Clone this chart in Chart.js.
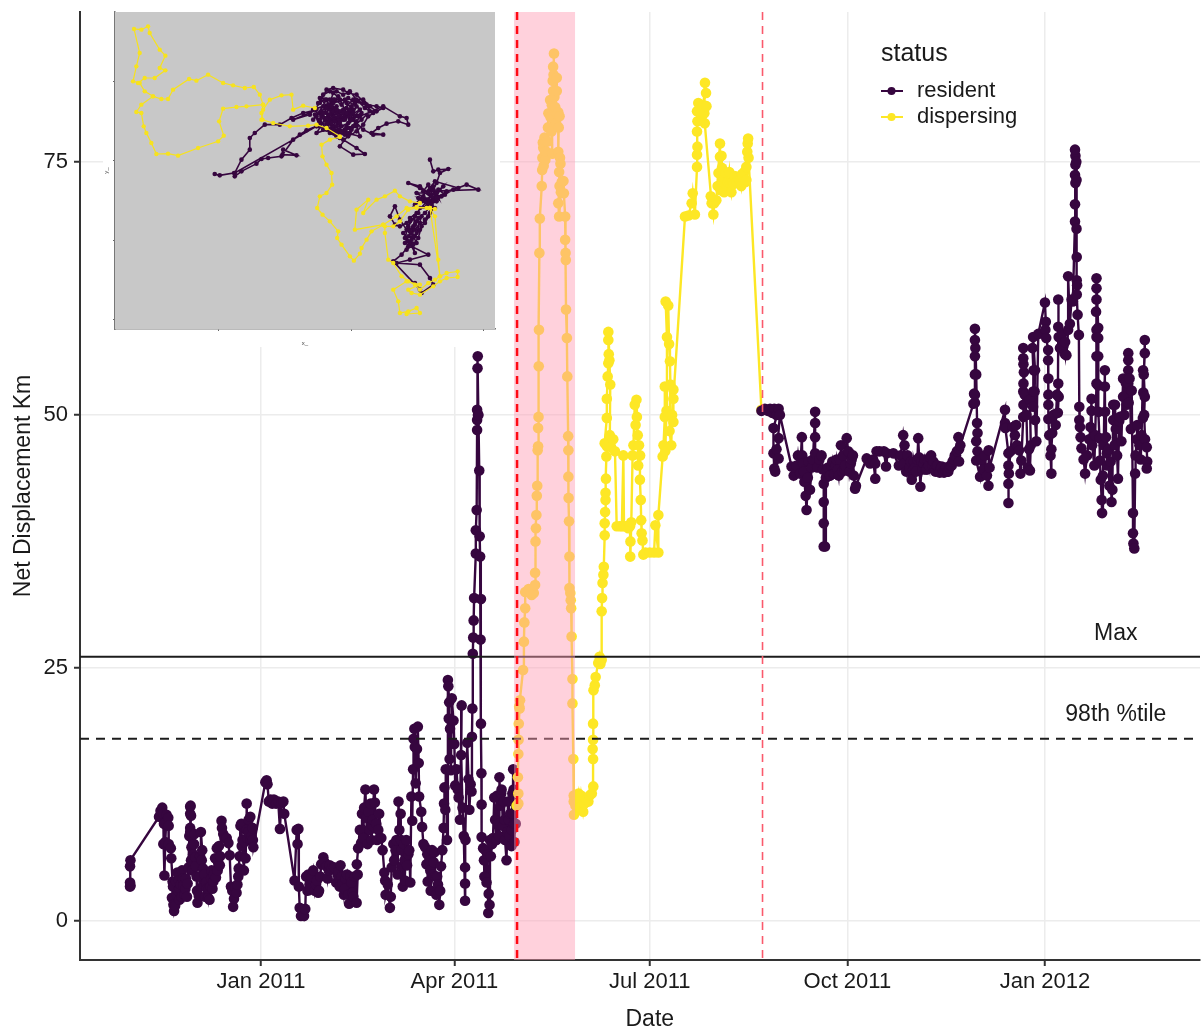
<!DOCTYPE html>
<html>
<head>
<meta charset="utf-8">
<title>Net displacement</title>
<script src="https://cdn.jsdelivr.net/npm/chart.js@4"></script>
<style>
  body { margin: 0; background: #fff; }
  #wrap { position: relative; width: 1202px; height: 1031px; }
  #mainChart { position: absolute; left: 0; top: 0; filter: blur(0.4px); }
  #insetChart { position: absolute; left: 103px; top: 0; background: #fff; filter: blur(0.6px); }
</style>
</head>
<body>
<div id="wrap">
  <canvas id="mainChart" width="1202" height="1031"></canvas>
  <canvas id="insetChart" width="397" height="347"></canvas>
</div>
<script>
// x is days since 1 Jan 2011, y is net displacement in km
const tickDays = [0, 90, 181, 273, 365];
const tickLabels = ["Jan 2011", "Apr 2011", "Jul 2011", "Oct 2011", "Jan 2012"];
const kmTicks = [0, 25, 50, 75];
const maxKm = 26.1;
const pct98Km = 18;
const bandDays = [117.8, 146.2];
const startDay = 119.2;
const endDay = 233.5;

const residentEarly = [
[-61,3.4],[-61,3.8],[-60.8,3.5],[-61,5.4],[-60.8,6],[-47.5,10.3],[-46.8,10.9],[-46,11.2],[-45.5,10.6],[-45.2,9.6],[-45.5,7.6],[-45,4.5],[-44.6,7.8],[-44,10.5],[-43.2,10.2],[-43,9.4],[-43,7.6],[-42,7.2],[-41.8,6.2],
[-41.2,3.9],[-41,3.4],[-41.5,2.3],[-40.8,1.6],[-40.5,1],[-40,1.5],[-39.6,3.9],[-39.2,2.6],[-39,4.8],[-38.6,3],[-38.2,4],[-38,2.1],[-37.8,3.2],[-37.4,3.6],[-37,2.4],[-36.8,5],[-36.4,4.2],[-36.2,3.5],[-35.6,2.6],[-35.2,3.2],[-35,4.2],[-34.5,2.4],[-34.2,3.7],[-33.8,5.3],[-33.4,8.4],[-33,9.2],[-33,10.6],[-33,11.3],[-32.8,11.4],[-32.6,10.4],[-33,8.8],[-32.4,7.3],[-32.6,6],[-32,5],[-31.6,6.6],[-31.2,7.6],[-31,8.6],[-30.6,6.3],[-30.4,5.4],[-30,4.4],[-29.8,3],[-29.6,1.8],[-29,2.5],[-28.6,4.4],[-28.4,6.4],[-28,8.8],[-27.4,7],[-27.6,6],[-27,5.2],[-26.6,3.6],[-26.4,4.6],[-26,2.4],[-25.6,3.8],[-25.2,3.2],[-24.6,2.3],[-24.2,3.2],[-24,2.1],[-23.5,3.4],[-23.2,4.2],[-23,5],[-22.6,3.2],[-22.2,3.9],[-22,4.6],[-21.4,6.2],[-21,4.3],[-20.6,7.2],[-20.2,5],[-20,5.8],[-19.6,7.4],[-19.2,5.5],[-19,6.4],
[-18.4,9.9],[-18.2,9.2],[-17.6,8.6],[-17,8.2],[-16,8.2],[-15.2,7.7],[-14.6,6.5],[-14,3.4],[-13.4,3],[-13,1.4],[-12.6,2.2],[-12,3.3],[-11.4,2.8],[-11,3.6],[-10.6,4.4],[-10.4,5.2],[-10,6.4],[-9.6,9.4],[-9.2,9.6],[-9,7.4],[-8.6,8],[-8.4,6.4],[-8,5],[-7.6,7.8],[-7.2,6.2],[-6.8,9],[-6.7,11.6],[-6.4,8.2],[-6,8.8],[-5.8,10],[-5,10.3],[-4.8,8],[-4.4,8.4],[-4,9.2],[-3.8,8],[-3.6,7.3],
[2,13.7],[2.6,13.9],[3,13.5],[3.6,11.8],[4.4,12],[5.2,11.6],[6,12],[7,11.6],[8,11.8],[8.8,9.1],[9.4,11.6],[10.4,11.8],[10.8,10.6],[15.6,4],[16.6,9],[17,7.6],[17.4,9.1],[17.6,3.4],[18,1.3],[18.6,0.5],[19.4,1.1],[20,0.5],[20.6,1.2],[21,4.4],[21.6,3],[22,4.6],[22.6,3.6],[23,3.2],[23.6,4.4],[24.3,5],[25,3],[25.6,3.6],[26,4],[26.6,2.8],[27,3],[27.6,4.4],[28,5.6],[29,6.3],[29.6,5.8],[30.4,5.4],[31,4.2],[31.6,5],[32,5.5],[33,5.2],[34,5.3],[35,3.8],[35.6,4.6],[36,4.9],[36.6,3.4],[37,5.5],[37.6,4.4],[38,3.7],[38.6,2.6],[39,3.2],[39.4,4.2],[40,4.6],[40.6,2.6],[41,1.7],[41.6,4.4],[42,3.8],[42.6,2.8],[43,2.4],[43.6,4.4],[44.5,1.8],[45,4.6],[44.6,5.6],[45.2,7.2],[46,9],[46.6,7.7],[47,10.6],[47.4,9],[47.6,8.2],[48,11.2],[48.6,13],[49,10.2],[49.6,7.6],[50,10.8],[50.6,9],[51,11.6],[51.4,8],[51.8,9.4],[52,10],[52.6,13],[53,11.7],[53.6,9.6],[54,8],[54.6,9],[55,10.6],[56,8.2],[56.6,7],
[57.4,4.8],[57.8,4],[58,2.6],[59,3.6],[60,1.3],[60.4,2.4],[60.8,5.3],[61.6,7.6],[62,6],[62.6,7],[63,8],[63.6,4.6],[64,11.8],[64.4,9],[65,10.6],[65.2,8],[65.4,7],[65.8,5.4],[66,3.4],[66.6,7.6],[66.8,6],[67,4],[67.6,8],[68,5.5],[68.6,6.6],[69,7],[69.5,3.8],[70,12.3],[70.4,9.9],[70.8,15],[71,18],[71.4,19],[71.6,17.2],[72,13.6],[72.6,17],[73,19.2],[73.4,15.6],[73.6,12.3],[74.6,10.8],[75,9.3],[75.6,7.6],[76.4,7.3],[77,5.6],[77.4,6.6],[77.6,3.9],[78.4,6],[78.8,5],[79,3],[79.6,7],[80,4.6],[80.4,5.8],[80.8,6.8],[81.2,4.4],[81.6,2.6],[82,4.4],[82.4,3.6],[83,1.6],[83.4,3],[83.8,5.4],[84.4,7],[85,9.2],[85.2,11.6],[85.4,13.2],[85.8,11],[86,15],[86.6,8],[87,23.8],[87.2,23.2],[87.6,21.6],[87.4,20],[87.8,16],[88,19],[88.4,14.9],[88.8,22],[89.6,19.8],[90,17.5],[90.4,13.4],[91,15],[91.6,13],[92,12.2],[92.6,10],[93.4,21.3],[93.2,16.4],[93.8,11.2],[94.4,8.4],[95,2],[95,3.7],[95,5.3],[95.2,8],[96,17.6],[96.6,14],[97,11],[97.6,13.5],[98,12.8],[98.2,18.2],[98.4,21],[98.6,26.4],[98.8,28],[99,29.7],[99.2,31.9],[100,36.3],[100,38.6],[100.4,40.6],[100.6,48.5],[100.6,49.5],[101,50],[100.6,50.5],[100.8,54.6],[100.9,55.8],[101.2,50],[101.6,44.5],[101.8,38],[102,36],[102.4,31.8],[102.2,27.8],[102.4,19.5],[102.6,14.6],[102.7,11.5],[102.7,8.3],[103.4,7.2],[103.8,6],[104,4.4],[104.4,7],[105,3.8],[105.4,6.6],[105.8,0.8],[106,2.7],[106.4,1.6],[106.6,8],[107,6.4],[107.6,7.6],[108,8.2],[108.6,12.2],[109,10],[109.6,8],[110,12.4],[110.4,9.6],[110.8,8.4],[111,14.2],[111.4,11.4],[111.8,12.6],[112,13],[112.6,9.4],[113,11.8],[113.4,10],[113.6,8],[114.3,6],[114.6,8.8],[115,11.8],[115.4,10],[115.6,8.4],[116,10.6],[116.6,7.4],[116.8,9],[117,12.6],[117.2,10.6],[117.4,15],[117.6,13],[117.8,9.6],[118,7.8],[118.4,12.2],[118.6,9.6],[119,11.4]
];

const dispersing = [
[119,11.4],[119.8,11.6],[119.8,12.6],[119.6,14.2],[119.8,16.5],[119.9,17.9],[120,19.5],[120.4,21],[120.6,21.8],[120.2,21.2],[122,24.8],[122.4,27.6],[122.6,29.5],[123,30.9],[123,32.5],[124.6,32.8],[126,32.2],[127,32.4],[127.6,33.2],[127.6,34.4],[127.8,37.5],[128,38.8],[128.2,40.1],[128.4,42],[128.6,43],[128.8,46.5],[129,46.9],[129,48.7],[129.2,49.8],[129.3,54.8],[129.4,58.4],[129.6,66],[129.8,69.4],[130.7,72.6],[130.9,74.2],[131.2,76.9],[131,75.4],[131.6,74.6],[131.4,76.4],[132,77.4],[132.2,76],[132.4,75.2],[132.6,77],[133,76],[133.4,77],[133.6,78.4],[133.8,79.8],[134.6,81.1],[134.8,79.4],[135.2,78],[135.6,75.8],[135.4,80.6],[136,82],[135.8,83],[136,84.4],[136.4,85.7],[136.2,83.6],[136.6,81.4],[137,80],[137.7,83.3],[137.7,82],[137,80.4],[137.4,78.8],[138.4,79.9],[139,79.5],[138.6,78.4],[138.4,76],[139.2,75.4],[139.4,74.8],[138.8,74],[139,72.6],[138.4,70.9],[138.8,69.6],[139.6,72],[140,73],[140.8,73.1],[141,71.9],[141.6,69.6],[141.6,67.3],[141.8,66],[141.9,65.3],[142,60.4],[142.4,57.6],[142.6,53.8],[143,47.9],[143.1,46.5],[143.1,43.9],[143.2,41.8],[143.4,39.5],[143.6,36],[143.6,32.9],[144,32.4],[144.2,31.7],[144.4,30.9],[144.6,28.1],[145,23.9],[145,21.5],[145.4,16],[145.6,12.4],[145.6,11.8],[145.7,10.5],[146.4,11.4],[147.2,12],[147.8,12.6],[148.4,11.2],[149,12.4],[150,10.8],[150.6,11.6],[151.4,12],[152.4,11.8],[153,12.4],[154,12.6],[154.7,13.3],[154.6,16],[154.4,17],[154.6,17.9],[154.6,19.5],[154.8,22.8],[155.4,23.3],[155.8,24.1],[157,25.5],[157.6,26.1],[158,25.4],[158.6,25.8],[158.6,30.6],[158.8,31.9],[159,33.4],[159.4,34.2],[159.6,35],[160,38.1],[160,39.3],[160.2,40.4],[160.4,41.6],[160.4,42.3],[160.6,43.7],[160.8,45.9],[161,46.9],[160,47.2],[161,49.7],[161,51.6],[161.4,53.8],[161.7,55.1],[161.9,56],[161.7,57.4],[161.7,58.2],[162.2,55.4],[162.6,53],[162.4,48],[163,46.8],[164,47.6],[164.8,46.4],[165.6,39],[167,39],[168,39],[168.7,46],[169,39],[170,39],[171,38.8],[171.8,39],[172,37.5],[171.9,36],[172.4,39.4],[173,46],[173.4,47],[174,51],[174.4,49],[174.8,51.5],[175,49.8],[175.4,48],[175.6,45],[176,47],[176.5,46],[176.4,43.6],[176.8,41.6],[177,39.6],[177.2,38.3],[177.6,37.6],[178,36.2],[179,36.4],[181,36.4],[183,36.4],[183.6,39.1],[185,36.4],[185,40.1],[187,45.9],[187.4,47],[188,49.8],[188,52.8],[188.2,46.4],[188.8,50.4],[189,57.7],[188.4,61.2],[189.6,60.8],[190,57],[190.4,55.3],[190.6,53],[190.2,48.4],[191,47],[191.4,50],[192,52.5],[192,49.3],[192,51.6],
[197.4,69.6],[199,69.7],[200.5,70.9],[201,71.9],[202,69.8],[203,74.5],[203,75.7],[203.2,76.5],[203,78],[203.2,79],[203,80],[203.6,80.8],[204.4,80.4],[205,79.4],[205.4,80.6],[206,80.6],[206.7,82.8],[207.2,81.8],[205.6,80.4],[206.4,79.8],[207.4,80.5],[206.6,78.8],[209.8,70.9],[209.4,71.6],[210.6,69.8],[211,70.9],[212,71.2],[213.7,76.8],[213.7,75.5],[213,73.9],[212.6,72.6],[214,72.2],[214.6,74.4],[214.4,75.6],[215,73],[215.6,72],[216,73.4],[216.4,73.9],[217,72.6],[217.4,73],[218,74],[218.4,72.9],[219,72],[219.6,73],[220,72.8],[220.6,73.6],[221.4,73],[222.2,73.4],[223,73.2],[223.6,72.6],[224,73.8],[224.6,73],[225,74],[225.6,73],[226,73.2],[226,74.5],[226.4,76],[226.6,76.8],[226.8,77.3],[227,75.4],[233,50.5]
];

const residentLate = [
[233,50.4],[234.6,50.6],[236,50.4],[237,50.6],[238,50.2],[239,50.6],[240,50],[241,50.6],[238.6,48.7],[238.6,46.2],[239,44.7],[240,46.6],[241,47.7],[241,45.7],[239.4,44.4],[241.6,50],[247,44.9],[248,44],[248.6,44.8],[249.4,45],[250,46],[251,44.2],[251.8,47.8],[252,46],[252.4,45.2],[252.8,44.4],[253,43.4],[253.6,42],[254,40.6],[254.6,43.8],[255,45.4],[255.6,42.6],[256.4,44.8],[257,45.6],[258,50.3],[258,49.2],[258,47.8],[258,46.2],[259,44.8],[260,45.6],[261,46],[261.6,44.6],[262,43.2],[262,41.4],[262,39.3],[262,37],[262.6,37],[263,43.8],[263.6,44.6],[264,44.8],[264.6,44],[265,44],[265.6,45],[266,45.4],[266.6,44.2],[267,44.2],[267.6,45],[268,45.6],[268.6,44.6],[269,44],[269.6,45.6],[270,47],[270.6,44.4],[271,46],[271.6,44.6],[272,45],[272.7,47.7],[273.4,46.4],[274,44.4],[274.6,45.2],[275,45.6],[275.6,46],[276,44],[276.6,42.7],[277,43],[282,45.7],[283.6,45.2],[285,45.6],[286,43.7],[286,45.2],[286.6,46.4],[288,46.4],[290,46.4],[291,44.9],[291.4,46.2],[294.4,46.2],[297,45],[297.8,46],[299,48],[299.6,47],[299.4,45.2],[300.4,44.4],[301,46],[301.6,44.4],[302,44.8],[302.6,45.4],[303,43.6],[303.6,44.6],[304,45.4],[304.6,44.8],[305,44.4],[305.6,45.6],[306,47.7],[306.4,45.8],[307,42.9],[307.6,45.4],[308,44.6],[308.6,45.2],[309,45.6],[309.6,44.6],[310,44.6],[310.6,45.4],[311,45],[311.6,45.8],[312,46],[312.6,45],[313,45.4],[313.6,44.6],[314,44.4],[314.6,45],[315,45],[315.6,44.4],[316,44.3],[316.6,44.8],[317,44.9],[317.6,44.4],[318,44.3],[318.6,44.6],[319,44.8],[319.6,44.4],[320,44.4],[320.6,44.8],[321,45],[321.6,45],[322,45.4],[322.6,45.6],[323,46],[323.6,46],[324,46.4],[324.7,47.8],[325,46.6],[325,45.4],[325.6,47],
[331.7,51.1],[332,52.1],[332.4,51.2],[332.4,52],[332.4,54],[332.4,55.8],[332.6,56.6],[332.4,57.4],[332.4,58.5],[333,54],[333.4,49.2],[333.6,48.2],[333,47.4],[333.6,46.4],[333,45.5],[334.8,43.9],[335.4,45.6],[336.4,44.6],[337,46],[338,44],[338.7,43],[338.8,46.5],[339.2,44.8],[346.4,50.5],[346.4,49.2],[346.6,48.7],[348,46.2],[348,45],[348,43.2],[348,41.3],[348.2,44.2],[349,46.4],[350,48.8],[351,48],[351.6,49],[352,47],[353,46.5],[353.6,44.2],[354,45.5],[354.9,49.8],[355,51],[354.9,52.3],[355,53.1],[355.2,54.2],[355,55],[354.9,55.6],[354.9,56.6],[355.6,52],[356.4,50],[357,44.8],[357.6,46.6],[358,44.5],[358.4,47],[358,51.5],[359.5,50.8],[359.5,52.3],[359.7,54.4],[359.2,56.6],[359.5,57.7],[360.4,54.4],[360.2,52.3],[360.4,49.5],[361,47.4],[361.9,58],[365,61.1],[365.4,59.2],[365.2,58.4],[365.6,57.6],[366.5,56.4],[366.5,55.4],[366.6,53.6],[366.6,52],[366.6,51],[366.6,49.6],[367,48],[367.6,46],[368,44.2],[368,46.6],[368.4,48.2],[369,50],[370,49],[370.6,52],[371.2,53.1],[371.4,51.8],[371,50.2],[371.2,58.7],[371.2,61.4],[371.4,57.7],[372,56.6],[373,58],[373.6,56.8],[374.3,56],[374.4,57.2],[375,55.9],[375.8,58.4],[375.8,63.7],[376.6,59],[377.4,61.4],[378,61.2],[379,69.1],[379,70.8],[379.2,72.9],[379,73.7],[379.2,74.7],[379.2,75.6],[379,76.2],[379.6,75],[379.7,73.2],[379.7,68.4],[379.8,65.6],[379.8,63.3],[380,62.8],[379.8,61.9],[380.2,59.9],[380.8,57.9],[381,50.8],[381,49.5],[381.3,48.8],[381.6,47.8],[382,46.7],[383,45.6],[383.7,44.2],[384.6,46],[385.6,47.6],[386.2,48.8],[386.7,51.6],[386.7,50.4],[387,47],[388,45],[388.4,48],[389,53.1],[389,55.8],[389,57.7],[389,58.4],[388.8,60.2],[389,61.4],[389,62.5],[389,63.5],[389.8,58.6],[389.8,57.6],[389.8,55.8],[389.8,52.9],[390,50.3],[390.4,47.7],[390.6,45.5],[391,43.6],[391.4,41.6],[391.6,40.3],[392,44],[392.4,47],[392.9,54.4],[392.9,52.8],[393,50.3],[393.4,47.8],[393.8,46.2],[394,45],[394.6,46.6],[395,43],[395.6,45.4],[396,41.4],[396.4,42.6],[396.8,51],[396.8,49.5],[397.4,47],[397.6,51],[398,48.6],[398.6,46],[399,43.7],[399.6,49.4],[399.9,49.8],[400.6,47.4],[401.4,53.6],[401.4,51.8],[402,50],[402.6,53.2],[403,51],[403.8,56.1],[403.8,55.4],[403.8,54.4],[403.8,53.1],[404,51.2],[404.4,53.6],[405,48.6],[405.4,52.4],[406,40.3],[406,38.3],[406.2,37.3],[406.6,36.8],[407,44.2],[407.2,46],[407.8,47.6],[408,49],[409,47],[409.6,45.6],[410,48],[410.7,54.4],[410.8,52.2],[410.6,49.7],[411.5,57.4],[411.5,56.1],[411,54],[411.5,51.8],[411.2,50],[411.6,47.6],[412.4,46.8],[412.6,45.4],[412.4,44.7]
];

// inset map coordinates, the axes have no tick labels in the figure
const mapTicksX = [357, 755, 1152];
const mapTicksY = [755, 517, 278, 40];

const mapResidentUpper = [
[345,477],[360,473],[403,480],[405,470],[425,485],[470,508],[485,522],[505,525],[545,530],[550,550],[590,533],[548,535],[580,580],[600,595],[620,608],[650,620],[405,480],[425,520],[450,550],[450,585],[465,600],[495,625],[540,625],[575,645],[610,660],[650,670],[580,640],[630,655],[660,690],[680,730],[700,735],[730,730],[745,720],[770,715],[800,685],[830,680],[850,675],[820,660],[790,690],[760,700],[730,670],[700,650],[680,700],[650,650],[670,610],[720,600],[760,640],[790,610],[820,595],[850,595],[815,600],[835,615],[860,628],[895,635],[925,625],[920,645],[900,650],[850,680],[780,650],[750,600],[720,560],[760,535],[795,537],[770,555],[730,580],[700,620],[660,660],[640,640],[670,680],[690,640],[710,680],[730,640],[760,670],[740,690],[700,720],[680,660],[720,640],[750,660],[770,620],[780,590],[740,600],[700,600],[720,650],[690,610],[665,650],[640,670],
[700,690],[735,700],[770,680],[750,640],[715,710],[690,670],[660,705],[690,700],[710,660],[745,650],[780,670],[740,620],[720,585],[680,625],[700,640],[660,630],[710,620],[650,600],[675,640],[695,660],[715,640],[735,655],[755,680],[775,695],[795,675],[810,665],[785,640],[760,620],[735,610],[705,605],[685,630],[665,665],[685,685],[705,700],[725,685],[745,705],[765,690],[785,660],[765,650],[745,630],[725,620],[705,635],[685,650],[700,675],[720,665],[740,675],[755,655],[735,640],[715,650],[695,630],[675,615],[690,600],[710,590],[730,600],[750,615],[770,635],[755,610],[735,595],[715,610],[695,680],[675,700],[655,690],[670,715],[690,725],[710,725],[730,715],[750,725],[770,700],[790,700],[810,680],[830,665],[805,650],[790,625],[770,605],[745,590],[725,605],[700,665],[680,645],[660,620],[645,655],[670,660],[690,655],[710,670],[730,660],[750,670],[700,610],[720,630],[680,610],[660,640],[680,675],[700,700],[720,700],[740,660],[760,660],[775,650],[755,640]
];

const mapResidentLower = [
[990,520],[1000,485],[1015,490],[1045,492],[1020,480],[1010,450],[1000,430],[985,425],[1135,430],[1100,445],[1060,430],[1025,410],[985,420],[960,440],[925,450],[960,435],[1000,400],[1030,440],[980,400],[950,420],[1010,420],[990,395],[970,410],[1005,375],[960,375],[980,380],[1000,440],[1015,405],[985,445],[970,425],[995,410],[975,395],[1015,430],[1035,415],[1000,395],[955,405],[985,385],[1010,395],[965,395],[945,385],[990,435],[1005,455],[1075,435],[1040,425],[1010,405],[985,400],[950,360],[930,345],[960,330],[945,310],[925,290],[915,270],[985,235],[930,220],[890,210],[960,205],[990,165],[1000,145],[965,120],[945,150],[960,130],[880,215],[905,235],[925,260],[950,300],[965,350],[940,320],[910,300],[930,270],[945,240],[920,330],[900,320],[885,325],[870,350],[885,380],[900,340],[920,310],[945,290],[960,310],[975,340],[990,360],[1000,375],[975,330],[950,335],[935,300],[925,320],[945,350],[935,280],[920,250],[940,265],[955,285],[965,320],[985,350],[995,385],[975,360],[955,345],[945,325],[930,305],[940,290],[950,270],[925,275],[915,285],[930,335],[955,360]
];

const mapDispersingLower = [
[720,588],[690,580],[665,565],[668,530],[680,505],[695,480],[697,445],[680,420],[660,410],[652,375],[668,355],[690,335],[715,305],[712,285],[725,265],[750,230],[762,217],[780,238],[785,255],[800,280],[815,305],[850,325],[890,350],[920,375],[950,378],[990,375],[1005,372],[980,375],[950,375],[925,370],[900,335],[880,320],[855,320],[855,300],[865,220],[880,210],[905,170],[925,155],[945,145],[960,130],[985,150],[1005,160],[1020,170],[1015,220],[1005,350],[990,375],[1020,170],[1040,180],[1073,185],[1073,168],[1040,165],[1020,155],[1000,140],[960,115],[935,120],[925,130],[960,145],[920,155],[880,130],[895,95],[900,60],[925,65],[950,75],[960,60],[920,57]
];

const mapDispersingSide = [
[850,325],[765,310],[770,370],[805,400],[790,360],[830,400],[855,410],[885,427],[900,410],[930,395],[960,390]
];

const mapDispersingUpper = [
[720,590],[680,615],[650,625],[625,622],[570,620],[520,630],[485,640],[490,670],[510,700],[545,713],[575,715],[580,670],[610,682],[645,675]
];

const mapDispersingWest = [
[490,685],[440,680],[410,678],[370,673],[358,635],[372,592],[355,575],[295,555],[235,532],[205,538],[170,537],[155,570],[140,600],[132,620],[125,660],[110,663],[125,685],[160,710],[185,702],[205,702],[220,730],[268,762],[290,757],[325,775],[370,750],[400,743],[435,735],[462,738],[480,715],[490,685],[485,660],[488,640]
];

const mapDispersingNorth = [
[160,710],[135,725],[120,750],[100,755],[110,800],[120,840],[103,912],[125,910],[145,920],[150,900],[180,850],[197,832],[180,795],[197,788],[165,765],[135,765],[115,750]
];

const purple = "#36063f";
const yellow = "#FDE725";
const textColor = "#1a1a1a";
const fontName = "Liberation Sans";

function toPoints(rows) {
  return rows.map(r => ({ x: r[0], y: r[1] }));
}

// legend key: short line with a dot on it
function legendKey(color) {
  const c = document.createElement("canvas");
  c.width = 29;
  c.height = 12;
  const g = c.getContext("2d");
  g.strokeStyle = color;
  g.lineWidth = 2;
  g.beginPath();
  g.moveTo(0, 6);
  g.lineTo(22, 6);
  g.stroke();
  g.fillStyle = color;
  g.beginPath();
  g.arc(10.5, 6, 4, 0, Math.PI * 2);
  g.fill();
  return c;
}

function pathSet(label, rows, color, radius, width, order) {
  return {
    label: label,
    data: toPoints(rows),
    showLine: true,
    borderColor: color,
    backgroundColor: color,
    borderWidth: width,
    pointRadius: radius,
    pointBorderWidth: 0,
    order: order
  };
}

function hLine(label, km, dash, order) {
  return {
    label: label,
    data: [{ x: -84.3, y: km }, { x: 437.2, y: km }],
    showLine: true,
    borderColor: "#1c1c1c",
    borderWidth: 2,
    borderDash: dash,
    pointRadius: 0,
    order: order
  };
}

// band goes over the data, the dashed lines over the band
const overlay = {
  id: "overlay",
  afterDatasetsDraw(chart) {
    const { ctx, chartArea, scales } = chart;
    const x = scales.x;
    const y = scales.y;
    ctx.save();
    ctx.fillStyle = "rgba(255,155,179,0.46)";
    const x0 = x.getPixelForValue(bandDays[0]);
    const x1 = x.getPixelForValue(bandDays[1]);
    ctx.fillRect(x0, chartArea.top, x1 - x0, chartArea.bottom - chartArea.top);

    ctx.strokeStyle = "#ff0a14";
    ctx.lineWidth = 2.5;
    ctx.setLineDash([8, 6]);
    ctx.beginPath();
    ctx.moveTo(x.getPixelForValue(startDay), chartArea.top);
    ctx.lineTo(x.getPixelForValue(startDay), chartArea.bottom);
    ctx.stroke();

    ctx.strokeStyle = "#fa5a6c";
    ctx.lineWidth = 1.6;
    ctx.beginPath();
    ctx.moveTo(x.getPixelForValue(endDay), chartArea.top);
    ctx.lineTo(x.getPixelForValue(endDay), chartArea.bottom);
    ctx.stroke();
    ctx.setLineDash([]);

    ctx.fillStyle = textColor;
    ctx.font = "23px 'Liberation Sans'";
    ctx.textAlign = "center";
    ctx.textBaseline = "middle";
    ctx.fillText("Max", x.getPixelForValue(398), y.getPixelForValue(28.4));
    ctx.fillText("98th %tile", x.getPixelForValue(398), y.getPixelForValue(20.4));
    // the axis title sits under the Jul 2011 tick, not the middle of the panel
    ctx.fillText("Date", x.getPixelForValue(181), chartArea.bottom + 60);
    ctx.restore();
  }
};

// the legend sits inside the plot, top right
const moveLegend = {
  id: "moveLegend",
  afterLayout(chart) {
    const lg = chart.legend;
    const w = lg.width;
    lg.left = 881;
    lg.right = 881 + w;
    lg.top = 42;
    lg.bottom = 42 + 110;
  }
};

new Chart(document.getElementById("mainChart"), {
  type: "scatter",
  data: {
    datasets: [
      pathSet("resident", residentEarly, purple, 5.3, 2.4, 3),
      pathSet("dispersing", dispersing, yellow, 5.3, 2.4, 2),
      pathSet("resident", residentLate, purple, 5.3, 2.4, 1),
      hLine("Max", maxKm, [], 0),
      hLine("98th %tile", pct98Km, [9, 7], 0)
    ]
  },
  plugins: [overlay, moveLegend],
  options: {
    responsive: false,
    animation: false,
    layout: { autoPadding: false, padding: { top: 12, right: 2, left: 0, bottom: 0 } },
    scales: {
      x: {
        type: "linear",
        min: -84.3,
        max: 437.2,
        afterBuildTicks(axis) {
          axis.ticks = tickDays.map(v => ({ value: v }));
        },
        afterFit(axis) {
          axis.height = 71;
          axis.paddingLeft = 0;
          axis.paddingRight = 0;
        },
        grid: { color: "#ececec", lineWidth: 1.5, tickColor: "#333", tickLength: 6, tickWidth: 2 },
        border: { color: "#333", width: 2 },
        ticks: {
          color: textColor,
          font: { size: 22, family: fontName },
          maxRotation: 0,
          autoSkip: false,
          padding: 3,
          callback: v => tickLabels[tickDays.indexOf(v)]
        }
      },
      y: {
        min: -3.85,
        max: 89.8,
        afterBuildTicks(axis) {
          axis.ticks = kmTicks.map(v => ({ value: v }));
        },
        afterFit(axis) {
          axis.width = 80;
          axis.paddingTop = 0;
          axis.paddingBottom = 0;
        },
        grid: { color: "#ececec", lineWidth: 1.5, tickColor: "#333", tickLength: 6, tickWidth: 2 },
        border: { color: "#333", width: 2 },
        ticks: {
          color: textColor,
          font: { size: 22, family: fontName },
          padding: 6
        },
        title: {
          display: true,
          text: "Net Displacement Km",
          color: textColor,
          font: { size: 23, family: fontName },
          padding: { top: 10, bottom: 0 }
        }
      }
    },
    plugins: {
      tooltip: { enabled: false },
      legend: {
        position: "chartArea",
        align: "start",
        title: {
          display: true,
          text: "status",
          position: "start",
          color: textColor,
          font: { size: 25, family: fontName },
          padding: { top: 0, bottom: 4 }
        },
        labels: {
          color: textColor,
          font: { size: 22, family: fontName },
          usePointStyle: true,
          pointStyleWidth: 21,
          boxHeight: 12,
          padding: 4,
          generateLabels() {
            return [
              { text: "resident", pointStyle: legendKey(purple), lineWidth: 0, fontColor: textColor },
              { text: "dispersing", pointStyle: legendKey(yellow), lineWidth: 0, fontColor: textColor }
            ];
          }
        }
      }
    }
  }
});

// grey inset map
const insetBackground = {
  id: "insetBackground",
  beforeDatasetsDraw(chart) {
    const a = chart.chartArea;
    chart.ctx.save();
    chart.ctx.fillStyle = "#c8c8c8";
    chart.ctx.fillRect(a.left, a.top, a.right - a.left, a.bottom - a.top);
    chart.ctx.restore();
  }
};

const mapYellow = "#f7e21e";

new Chart(document.getElementById("insetChart"), {
  type: "scatter",
  data: {
    datasets: [
      pathSet("resident", mapResidentUpper, purple, 2.3, 1.6, 2),
      pathSet("resident", mapResidentLower, purple, 2.3, 1.6, 2),
      pathSet("dispersing", mapDispersingLower, mapYellow, 2.2, 1.2, 1),
      pathSet("dispersing", mapDispersingSide, mapYellow, 2.2, 1.2, 1),
      pathSet("dispersing", mapDispersingUpper, mapYellow, 2.2, 1.2, 1),
      pathSet("dispersing", mapDispersingWest, mapYellow, 2.2, 1.2, 1),
      pathSet("dispersing", mapDispersingNorth, mapYellow, 2.2, 1.2, 1)
    ]
  },
  plugins: [insetBackground],
  options: {
    responsive: false,
    animation: false,
    layout: { autoPadding: false, padding: { top: 12, right: 5, left: 0, bottom: 0 } },
    scales: {
      x: {
        type: "linear",
        min: 46,
        max: 1185,
        afterBuildTicks(axis) {
          axis.ticks = mapTicksX.map(v => ({ value: v }));
        },
        afterFit(axis) {
          axis.height = 18;
        },
        grid: { drawOnChartArea: false, tickColor: "#666", tickLength: 2 },
        border: { color: "#777", width: 1.5 },
        ticks: { display: false },
        title: { display: true, text: "x_", color: "#444", font: { size: 6, family: fontName }, padding: { top: 5, bottom: 0 } }
      },
      y: {
        min: 12,
        max: 963,
        afterBuildTicks(axis) {
          axis.ticks = mapTicksY.map(v => ({ value: v }));
        },
        afterFit(axis) {
          axis.width = 12;
        },
        grid: { drawOnChartArea: false, tickColor: "#666", tickLength: 2 },
        border: { color: "#777", width: 1.5 },
        ticks: { display: false },
        title: { display: true, text: "y_", color: "#444", font: { size: 6, family: fontName }, padding: 0 }
      }
    },
    plugins: { legend: { display: false }, tooltip: { enabled: false } }
  }
});
</script>
</body>
</html>
